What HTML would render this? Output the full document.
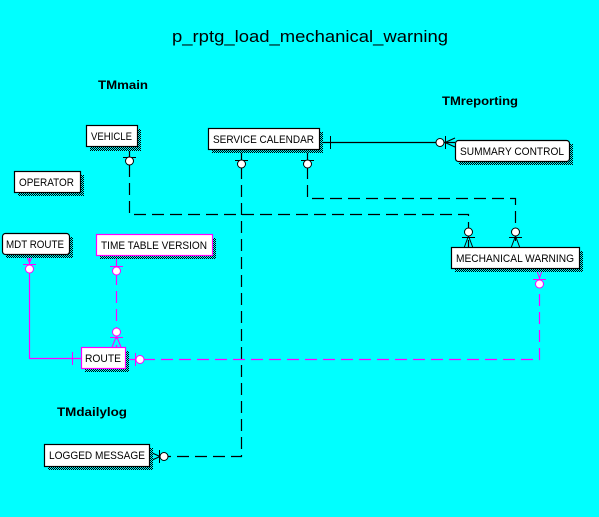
<!DOCTYPE html>
<html><head><meta charset="utf-8"><style>
html,body{margin:0;padding:0;background:#00ffff;}
svg{display:block;}
text{font-family:"Liberation Sans",sans-serif;}
</style></head><body>
<svg width="599" height="517" viewBox="0 0 599 517" xmlns="http://www.w3.org/2000/svg">
<defs>
<pattern id="d" width="2" height="2" patternUnits="userSpaceOnUse">
<rect width="2" height="2" fill="#00ffff"/><rect width="1" height="1" fill="#000"/><rect x="1" y="1" width="1" height="1" fill="#000"/>
</pattern>
</defs>
<rect width="599" height="517" fill="#00ffff"/>
<text x="172" y="42" font-size="17" textLength="276" lengthAdjust="spacingAndGlyphs">p_rptg_load_mechanical_warning</text>
<text x="98" y="89" font-size="12" font-weight="bold" textLength="50" lengthAdjust="spacingAndGlyphs">TMmain</text>
<text x="442" y="105" font-size="12" font-weight="bold" textLength="76" lengthAdjust="spacingAndGlyphs">TMreporting</text>
<text x="57" y="416" font-size="12" font-weight="bold" textLength="70" lengthAdjust="spacingAndGlyphs">TMdailylog</text>

<g fill="none" stroke-width="1.2">
<path d="M129.5 147 V214.5 H468.5 V248" stroke="#000" stroke-dasharray="12 6"/>
<path d="M307.5 149 V198.5 H515.5 V248" stroke="#000" stroke-dasharray="12 6"/>
<path d="M241.5 149 V456.5 H150" stroke="#000" stroke-dasharray="12 6"/>
<path d="M319 142.5 H455" stroke="#000"/>
<path d="M29.5 254 V358.5 H81" stroke="#ff00ff"/>
<path d="M116.5 255 V347" stroke="#ff00ff" stroke-dasharray="12 6"/>
<path d="M125 359.5 H539.5 V268" stroke="#ff00ff" stroke-dasharray="12 6"/>
</g>

<g stroke="#000" stroke-width="1" fill="#fff">
<line x1="123" y1="157.5" x2="136" y2="157.5"/><circle cx="129.5" cy="161" r="4"/>
<line x1="235" y1="160.5" x2="248" y2="160.5"/><circle cx="241.5" cy="164" r="4"/>
<line x1="301" y1="160.5" x2="314" y2="160.5"/><circle cx="307.5" cy="164" r="4"/>
<line x1="330.5" y1="136" x2="330.5" y2="149"/>
<circle cx="440" cy="142.5" r="4"/><line x1="445.5" y1="136" x2="445.5" y2="149"/>
<line x1="445" y1="142.5" x2="455" y2="138"/><line x1="445" y1="142.5" x2="455" y2="147"/>
<circle cx="468.5" cy="232" r="4"/><line x1="462" y1="237.5" x2="475" y2="237.5"/>
<line x1="468.5" y1="236" x2="464" y2="248"/><line x1="468.5" y1="236" x2="473" y2="248"/>
<circle cx="515.5" cy="232" r="4"/><line x1="509" y1="237.5" x2="522" y2="237.5"/>
<line x1="515.5" y1="236" x2="511" y2="248"/><line x1="515.5" y1="236" x2="520" y2="248"/>
<circle cx="164" cy="456.5" r="4"/><line x1="159.5" y1="450" x2="159.5" y2="463"/>
<line x1="160" y1="456.5" x2="150" y2="452"/><line x1="160" y1="456.5" x2="150" y2="461"/>
</g>
<g stroke="#ff00ff" stroke-width="1" fill="#fff">
<line x1="23" y1="264.5" x2="36" y2="264.5"/><circle cx="29.5" cy="269" r="4"/>
<line x1="29.5" y1="263" x2="26" y2="254"/><line x1="29.5" y1="263" x2="33" y2="254"/>
<line x1="110" y1="266.5" x2="123" y2="266.5"/><circle cx="116.5" cy="271" r="4"/>
<circle cx="116.5" cy="332" r="4"/><line x1="110" y1="337.5" x2="123" y2="337.5"/>
<line x1="116.5" y1="336" x2="112" y2="347"/><line x1="116.5" y1="336" x2="121" y2="347"/>
<line x1="72.5" y1="352" x2="72.5" y2="365"/>
<line x1="135.5" y1="353" x2="135.5" y2="366"/><circle cx="140" cy="359.5" r="4"/>
<line x1="533" y1="279.5" x2="546" y2="279.5"/><circle cx="539.5" cy="284" r="4"/>
<line x1="539.5" y1="278" x2="536" y2="268"/><line x1="539.5" y1="278" x2="543" y2="268"/>
</g>

<g fill="url(#d)">
<rect x="90" y="129" width="51" height="22"/>
<rect x="212" y="132" width="111" height="21"/>
<rect x="18" y="175" width="66" height="21"/>
<rect x="6" y="237" width="67" height="21"/>
<rect x="100" y="238" width="116" height="21"/>
<rect x="85" y="351" width="44" height="21"/>
<rect x="459" y="144" width="114" height="21"/>
<rect x="455" y="251" width="128" height="21"/>
<rect x="48" y="448" width="105" height="22"/>
</g>

<g stroke="#000" stroke-width="1.2" fill="#fff">
<rect x="86.5" y="125.5" width="51" height="21"/>
<rect x="208.5" y="128.5" width="111" height="21"/>
<rect x="14.5" y="171.5" width="66" height="21"/>
<rect x="2.5" y="233.5" width="67" height="21" rx="3"/>
<rect x="96.5" y="234.5" width="116" height="21" stroke="#ff00ff"/>
<rect x="81.5" y="347.5" width="44" height="21" stroke="#ff00ff"/>
<rect x="455.5" y="140.5" width="114" height="21" rx="3"/>
<rect x="451.5" y="247.5" width="128" height="21"/>
<rect x="44.5" y="444.5" width="105" height="22"/>
</g>
<g font-size="11" fill="#000" lengthAdjust="spacingAndGlyphs">
<text x="91" y="140" textLength="41" lengthAdjust="spacingAndGlyphs">VEHICLE</text>
<text x="213" y="143" textLength="101" lengthAdjust="spacingAndGlyphs">SERVICE CALENDAR</text>
<text x="19" y="186" textLength="55" lengthAdjust="spacingAndGlyphs">OPERATOR</text>
<text x="6" y="248" textLength="58" lengthAdjust="spacingAndGlyphs">MDT ROUTE</text>
<text x="101" y="249" textLength="106" lengthAdjust="spacingAndGlyphs">TIME TABLE VERSION</text>
<text x="85" y="362" textLength="36" lengthAdjust="spacingAndGlyphs">ROUTE</text>
<text x="460" y="155" textLength="104" lengthAdjust="spacingAndGlyphs">SUMMARY CONTROL</text>
<text x="456" y="262" textLength="118" lengthAdjust="spacingAndGlyphs">MECHANICAL WARNING</text>
<text x="49" y="459" textLength="96" lengthAdjust="spacingAndGlyphs">LOGGED MESSAGE</text>
</g>
</svg>
</body></html>
